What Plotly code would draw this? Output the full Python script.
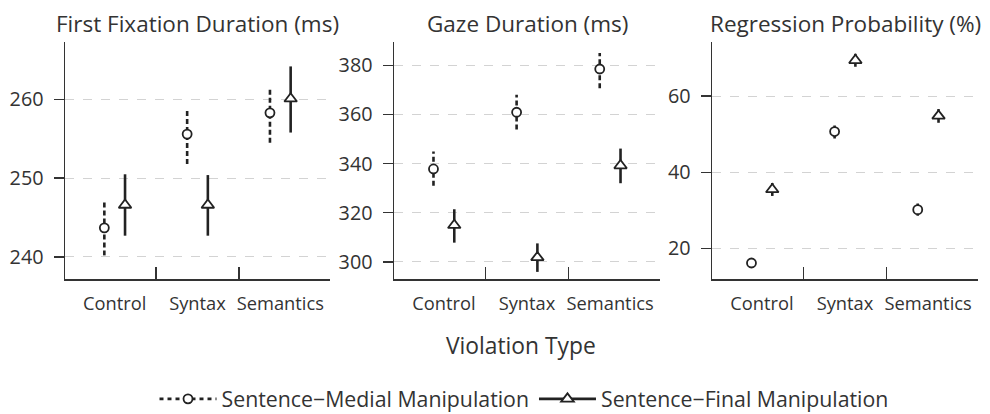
import plotly.graph_objects as go

# ---------------- data ----------------
categories = ["Control", "Syntax", "Semantics"]
panel_titles = ["First Fixation Duration (ms)", "Gaze Duration (ms)", "Regression Probability (%)"]
series_names = ["Sentence\u2212Medial Manipulation", "Sentence\u2212Final Manipulation"]

# First fixation duration (ms)
ffd_medial = [243.7, 255.6, 258.3]
ffd_medial_lo = [240.2, 251.8, 254.5]
ffd_medial_hi = [247.3, 258.9, 261.5]
ffd_final = [246.6, 246.6, 260.1]
ffd_final_lo = [242.7, 242.7, 255.8]
ffd_final_hi = [250.5, 250.4, 264.2]

# Gaze duration (ms)
gd_medial = [337.8, 360.9, 378.5]
gd_medial_lo = [331.0, 353.9, 370.7]
gd_medial_hi = [344.9, 368.0, 385.0]
gd_final = [314.9, 301.8, 339.2]
gd_final_lo = [307.8, 295.9, 332.0]
gd_final_hi = [321.4, 307.5, 346.1]

# Regression probability (%)
rp_medial = [16.2, 50.7, 30.2]
rp_medial_lo = [15.1, 48.9, 28.6]
rp_medial_hi = [17.3, 52.5, 31.8]
rp_final = [35.5, 69.4, 54.8]
rp_final_lo = [33.8, 67.7, 53.0]
rp_final_hi = [37.2, 71.1, 56.6]

y_ranges = [[237.2, 267.3], [293.0, 389.5], [12.0, 74.2]]
y_ticks = [[240, 250, 260], [300, 320, 340, 360, 380], [20, 40, 60]]

panels = [
    (ffd_medial, ffd_medial_lo, ffd_medial_hi, ffd_final, ffd_final_lo, ffd_final_hi),
    (gd_medial, gd_medial_lo, gd_medial_hi, gd_final, gd_final_lo, gd_final_hi),
    (rp_medial, rp_medial_lo, rp_medial_hi, rp_final, rp_final_lo, rp_final_hi),
]

# ---------------- style / layout ----------------
W, H = 990, 414
SHIFT = 8  # page body margin in the browser
FONT = "Open Sans"
TXT = "#333333"
INK = "#222222"
OFFSET = 0.125
x_pos = [1, 2, 3]
px_domains = [(65, 330), (394, 660), (712, 978)]
py_domain = (42, 279)  # top, bottom in screen pixels

def px(x):
    return (x - SHIFT) / W

def py(y):
    return (H - (y - SHIFT)) / H

fig = go.Figure()

styles = [
    dict(dash="5px,3px", symbol="circle", size=9, sign=-1),
    dict(dash="solid", symbol="triangle-up", size=11, sign=1),
]

for i, pdata in enumerate(panels):
    xa = "x" if i == 0 else f"x{i+1}"
    ya = "y" if i == 0 else f"y{i+1}"
    for s in range(2):
        vals, lo, hi = pdata[3 * s], pdata[3 * s + 1], pdata[3 * s + 2]
        st = styles[s]
        xs = [c + st["sign"] * OFFSET for c in x_pos]
        ex, ey = [], []
        for xv, l, h in zip(xs, lo, hi):
            ex += [xv, xv, None]
            ey += [l, h, None]
        fig.add_trace(go.Scatter(
            x=ex, y=ey, mode="lines", xaxis=xa, yaxis=ya,
            line=dict(color=INK, width=2.6, dash=st["dash"]),
            showlegend=False, hoverinfo="skip"))
        fig.add_trace(go.Scatter(
            x=xs, y=vals, mode="markers", xaxis=xa, yaxis=ya,
            marker=dict(symbol=st["symbol"], size=st["size"], color="white",
                        line=dict(color=INK, width=1.8)),
            showlegend=False, name=series_names[s]))
    # invisible trace on tick-overlay axis
    fig.add_trace(go.Scatter(x=[None], y=[None], xaxis=f"x{i+4}", yaxis=ya,
                             showlegend=False, hoverinfo="skip"))

# legend entries
leg_dash = ["4px,4px", "solid"]
for s in range(2):
    st = styles[s]
    fig.add_trace(go.Scatter(
        x=[None], y=[None], mode="lines+markers", name=series_names[s],
        line=dict(color=INK, width=2.6, dash=leg_dash[s]),
        marker=dict(symbol=st["symbol"], size=st["size"], color="white",
                    line=dict(color=INK, width=1.8))))

layout = dict(
    width=W, height=H,
    margin=dict(l=0, r=0, t=0, b=0),
    paper_bgcolor="white", plot_bgcolor="white",
    font=dict(family=FONT, color=TXT, size=17),
    showlegend=True,
    legend=dict(orientation="h", x=px(524), y=py(399), xanchor="center", yanchor="middle",
                font=dict(size=21.3, color=TXT, family=FONT), itemwidth=57,
                bgcolor="rgba(0,0,0,0)"),
    annotations=[],
)

for i in range(3):
    xk = "xaxis" if i == 0 else f"xaxis{i+1}"
    yk = "yaxis" if i == 0 else f"yaxis{i+1}"
    yname = "y" if i == 0 else f"y{i+1}"
    xname = "x" if i == 0 else f"x{i+1}"
    d0, d1 = px_domains[i]
    layout[xk] = dict(
        domain=[px(d0), px(d1)], range=[0.4, 3.6], anchor=yname,
        tickvals=x_pos, ticktext=categories, ticks="",
        showline=True, linecolor="#333333", linewidth=1.5,
        showgrid=False, zeroline=False, ticklabelstandoff=8,
        tickfont=dict(size=18.3, color=TXT, family=FONT), fixedrange=True)
    layout[f"xaxis{i+4}"] = dict(
        domain=[px(d0), px(d1)], range=[0.4, 3.6], anchor=yname, overlaying=xname,
        tickvals=[1.5, 2.5], ticks="inside", ticklen=12, tickwidth=1.5,
        tickcolor="#333333", showticklabels=False, showline=False,
        showgrid=False, zeroline=False, fixedrange=True)
    layout[yk] = dict(
        domain=[py(py_domain[1]), py(py_domain[0])], range=y_ranges[i], anchor=xname,
        tickvals=y_ticks[i], ticks="outside", ticklen=10, tickwidth=1.5,
        tickcolor="#333333", showline=True, linecolor="#333333", linewidth=1.5,
        showgrid=True, gridcolor="#d3d3d3", gridwidth=1, griddash="dash",
        zeroline=False, ticklabelstandoff=6,
        tickfont=dict(size=19.8, color=TXT, family=FONT), fixedrange=True)
    layout["annotations"].append(dict(
        text=panel_titles[i], x=px((d0 + d1) / 2), y=py(23), xref="paper", yref="paper",
        xanchor="center", yanchor="middle", showarrow=False,
        font=dict(size=22.5, color=TXT, family=FONT)))

layout["annotations"].append(dict(
    text="Violation Type", x=px(521), y=py(345), xref="paper", yref="paper",
    xanchor="center", yanchor="middle", showarrow=False,
    font=dict(size=22.8, color=TXT, family=FONT)))

fig.update_layout(**layout)
fig.write_html("out.html", config={"displayModeBar": False, "staticPlot": True})
